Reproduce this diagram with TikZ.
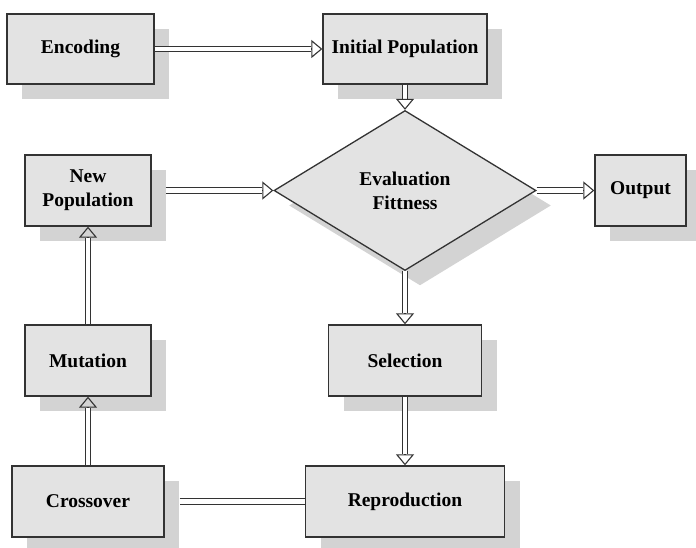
\documentclass[tikz,border=0pt]{standalone}
\usepackage{fontspec}
\setmainfont{Liberation Serif}
\usetikzlibrary{shapes.geometric,arrows.meta,calc,shadows}
\definecolor{boxfill}{HTML}{E3E3E3}
\definecolor{shadowc}{HTML}{D3D3D3}
\definecolor{edgec}{HTML}{333333}
\tikzset{
  boxshadow/.style={general shadow={draw=none, fill=shadowc, shadow xshift=15pt, shadow yshift=-15pt}},
  box/.style={draw=edgec, line width=1.3pt, fill=boxfill, inner sep=0pt, align=center,
    font=\bfseries\fontsize{19.5}{24}\selectfont, boxshadow},
  decision/.style={box, diamond, aspect=1.64},
  shaft/.style={draw=edgec, double=white, double distance=4.5pt, line width=1.1pt},
  tipsty/.style={draw=edgec, line width=1.1pt, -{Triangle[open, length=11pt, width=18pt]}}
}
\newcommand\blockarrow[2]{%
  \draw[shaft] #1 -- ($#2!11pt!#1$);
  \draw[tipsty] ($#2!11pt!#1$) -- #2;}
\begin{document}
\begin{tikzpicture}[x=1pt,y=-1pt]
\useasboundingbox[fill=white] (0,0) rectangle (696,548);
\node[box, minimum width=147pt, minimum height=70pt] (enc) at (80.5,49) {Encoding};
\node[box, minimum width=164pt, minimum height=70pt] (init) at (405,49) {Initial Population};
\node[decision, minimum width=262pt, minimum height=160pt] (dia) at (405,190.5) {Evaluation\\Fittness};
\node[box, minimum width=126pt, minimum height=71pt] (newpop) at (88,190.5) {New\\Population};
\node[box, minimum width=91pt, minimum height=71pt] (out) at (640.5,190.5) {Output};
\node[box, minimum width=126pt, minimum height=71pt] (mut) at (88,360.5) {Mutation};
\node[box, minimum width=153pt, minimum height=71pt] (sel) at (405,360.5) {Selection};
\node[box, minimum width=152pt, minimum height=71pt] (cross) at (88,501.5) {Crossover};
\node[box, minimum width=199pt, minimum height=71pt] (repro) at (405,501.5) {Reproduction};

\blockarrow{(enc.east)}{(init.west)}
\blockarrow{(init.south)}{(dia.north)}
\blockarrow{([xshift=14pt]newpop.east)}{(dia.west)}
\blockarrow{(dia.east)}{(out.west)}
\blockarrow{(dia.south)}{(sel.north)}
\blockarrow{(sel.south)}{(repro.north)}
\blockarrow{(mut.north)}{(newpop.south)}
\blockarrow{(cross.north)}{(mut.south)}
\draw[shaft] ([xshift=15pt]cross.east) -- (repro.west);
\end{tikzpicture}
\end{document}
